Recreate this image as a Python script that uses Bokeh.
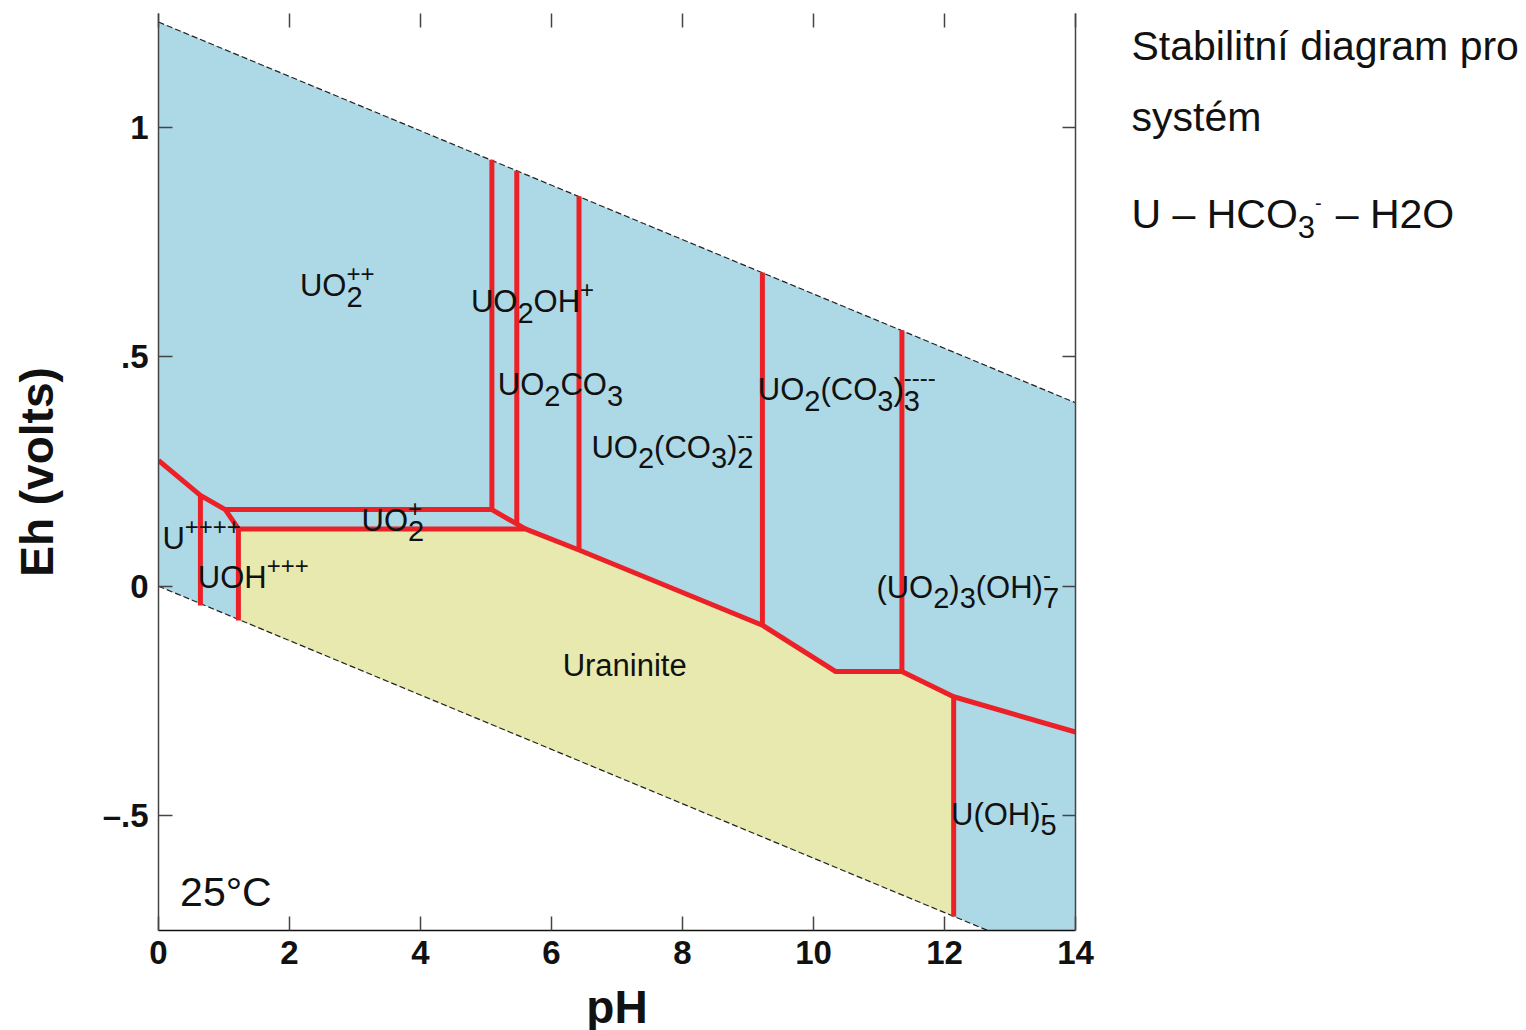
from bokeh.plotting import figure
from bokeh.layouts import row
from bokeh.models import LinearAxis, FixedTicker, ColumnDataSource, Range1d
from bokeh.embed import file_html
from bokeh.resources import INLINE
from bokeh.core.properties import value

# ---------------------------------------------------------------------------
# Data: Eh-pH stability diagram for U - HCO3- - H2O at 25 C
# ---------------------------------------------------------------------------

# water stability limits (O2/H2O above, H2O/H2 below)
water_ph = [0.0, 14.0]
water_upper_eh = [1.23, 0.40]
water_lower_eh = [0.0, -0.83]

# uraninite field: upper boundary (left to right) and lower closure
urn_top_ph = [1.22, 5.6, 6.42, 9.22, 10.34, 11.35, 12.14]
urn_top_eh = [0.125, 0.125, 0.079, -0.085, -0.186, -0.186, -0.241]
urn_low_ph = [12.14, 1.22]
urn_low_eh = [-0.72, -0.073]

# boundaries between the aqueous species fields
bound_ph = [
    [0.0, 0.64, 1.02, 1.22],
    [0.64, 0.64],
    [1.22, 1.22],
    [1.02, 5.09, 5.6],
    [1.22, 5.6, 6.42, 9.22, 10.34, 11.35, 12.14, 14.0],
    [5.09, 5.09],
    [5.47, 5.47],
    [6.42, 6.42],
    [9.22, 9.22],
    [11.35, 11.35],
    [12.14, 12.14],
]
bound_eh = [
    [0.274, 0.198, 0.167, 0.125],
    [0.198, -0.042],
    [0.125, -0.075],
    [0.167, 0.167, 0.125],
    [0.125, 0.125, 0.079, -0.085, -0.186, -0.186, -0.241, -0.318],
    [0.167, 0.93],
    [0.136, 0.906],
    [0.079, 0.85],
    [-0.085, 0.684],
    [-0.186, 0.558],
    [-0.241, -0.72],
]

# species labels: formula pieces (n = normal, b = subscript, p = superscript)
species_parts = [
    [("UO", "n"), ("2", "b"), ("++", "p")],
    [("UO", "n"), ("2", "b"), ("OH", "n"), ("+", "p")],
    [("UO", "n"), ("2", "b"), ("CO", "n"), ("3", "b")],
    [("UO", "n"), ("2", "b"), ("(CO", "n"), ("3", "b"), (")", "n"), ("2", "b"), ("--", "p")],
    [("UO", "n"), ("2", "b"), ("(CO", "n"), ("3", "b"), (")", "n"), ("3", "b"), ("----", "p")],
    [("(UO", "n"), ("2", "b"), (")", "n"), ("3", "b"), ("(OH)", "n"), ("7", "b"), ("-", "p")],
    [("U(OH)", "n"), ("5", "b"), ("-", "p")],
    [("U", "n"), ("++++", "p")],
    [("UOH", "n"), ("+++", "p")],
    [("UO", "n"), ("2", "b"), ("+", "p")],
    [("Uraninite", "n")],
]
species_ph = [2.16, 4.77, 5.18, 6.61, 9.15, 10.96, 12.10, 0.06, 0.60, 3.10, 6.17]
species_eh = [0.630, 0.595, 0.414, 0.278, 0.403, -0.027, -0.522, 0.078, -0.006, 0.118, -0.198]

temp_text = "25°C"
temp_ph, temp_eh = 0.33, -0.700

x_ticks = [0, 2, 4, 6, 8, 10, 12, 14]
y_ticks = [-0.5, 0, 0.5, 1]
y_tick_text = {-0.5: "–.5", 0: "0", 0.5: ".5", 1: "1"}

# side heading: lines of pieces, baseline in px from the top
heading_lines = [
    [("Stabilitní diagram pro", "n")],
    [("systém", "n")],
    [("U – HCO", "n"), ("3", "b"), ("-", "p"), (14, "g"), ("– H2O", "n")],
]
heading_baseline = [48, 118.7, 215.3]

# ---------------------------------------------------------------------------
FONT = "Liberation Sans"
RED = "#EC2127"
BLUE = "#ADD9E7"
YELLOW = "#E8E9AF"
INK = "#111111"
BASE_FIX = 0.37   # lifts text so its alphabetic baseline sits on the anchor

# advance widths (per 1000 em) for the sans face used for the formulas
ADV = {"U": 722, "O": 778, "H": 722, "C": 722, "(": 333, ")": 333, "+": 584,
       "-": 333, "2": 556, "3": 556, "5": 556, "7": 556, " ": 278, "–": 556,
       "r": 333, "a": 556, "n": 556, "i": 222, "t": 278, "e": 556}


def advance(s, size):
    return sum(ADV.get(c, 556) for c in s) * size / 1000.0


def layout(parts, sizes, shifts, stack=True):
    """Place formula pieces; with stack=True a superscript right after a
    subscript sits directly above it."""
    out = []
    cursor = 0.0
    prev_role, prev_w = None, 0.0
    for txt, role in parts:
        if role == "g":
            cursor += txt
            prev_role, prev_w = role, txt
            continue
        w = advance(txt, sizes[role])
        if stack and role == "p" and prev_role == "b":
            x0 = cursor - prev_w
            out.append((txt, x0, shifts[role], sizes[role]))
            cursor = x0 + max(prev_w, w)
        else:
            out.append((txt, cursor, shifts[role], sizes[role]))
            cursor += w
        prev_role, prev_w = role, w
    return out


def text_columns(parts_list, xs, ys, sizes, shifts, stack=True):
    cols = dict(x=[], y=[], text=[], dx=[], dy=[], size=[])
    for parts, x0, y0 in zip(parts_list, xs, ys):
        for txt, dx, dy, sz in layout(parts, sizes, shifts, stack):
            cols["x"].append(x0)
            cols["y"].append(y0)
            cols["text"].append(txt)
            cols["dx"].append(dx)
            cols["dy"].append(dy - BASE_FIX * sz)
            cols["size"].append(f"{sz}px")
    return ColumnDataSource(cols)


p = figure(frame_width=917, frame_height=917,
           x_range=Range1d(0, 14), y_range=Range1d(-0.7506, 1.2486),
           min_border_left=158, min_border_right=20, min_border_top=13, min_border_bottom=100,
           output_backend="svg", toolbar_location=None,
           background_fill_color="white", border_fill_color="white")
p.grid.visible = False
p.outline_line_color = None

# stability field of water
p.patch(water_ph + water_ph[::-1], water_upper_eh + water_lower_eh[::-1],
        fill_color=BLUE, line_color=None)
# uraninite field
p.patch(urn_top_ph + urn_low_ph, urn_top_eh + urn_low_eh,
        fill_color=YELLOW, line_color=None)

# water limits
p.line(water_ph, water_upper_eh, line_color="#222222", line_width=1.2, line_dash="6 3")
p.line(water_ph, water_lower_eh, line_color="#222222", line_width=1.2, line_dash="6 3")

# field boundaries
p.multi_line(bound_ph, bound_eh, line_color=RED, line_width=5,
             line_join="round", line_cap="butt")

# species labels
src = text_columns(species_parts, species_ph, species_eh,
                   {"n": 31, "b": 29, "p": 24}, {"n": 0, "b": 10, "p": -15})
p.text(x="x", y="y", text="text", x_offset="dx", y_offset="dy", text_font_size="size",
       text_font=value(FONT), text_color=INK, text_align="left",
       text_baseline="alphabetic", source=src)

src_t = text_columns([[(temp_text, "n")]], [temp_ph], [temp_eh], {"n": 41}, {"n": 0})
p.text(x="x", y="y", text="text", x_offset="dx", y_offset="dy", text_font_size="size",
       text_font=value(FONT), text_color=INK, text_align="left",
       text_baseline="alphabetic", source=src_t)

# axes
xa = p.xaxis[0]
xa.ticker = FixedTicker(ticks=x_ticks)
ya = p.yaxis[0]
ya.ticker = FixedTicker(ticks=y_ticks)
ya.major_label_overrides = y_tick_text

for ax in (xa, ya):
    ax.major_tick_in = 14
    ax.major_tick_out = 0
    ax.minor_tick_line_color = None
    ax.major_tick_line_color = "#444444"
    ax.major_tick_line_width = 1.5
    ax.major_label_text_font = FONT
    ax.major_label_text_font_size = "33px"
    ax.major_label_text_font_style = "bold"
    ax.major_label_text_color = INK
    ax.axis_label_text_font = FONT
    ax.axis_label_text_font_size = "46px"
    ax.axis_label_text_font_style = "bold"
    ax.axis_label_text_color = INK

xa.axis_line_color = INK
xa.axis_line_width = 1.5
xa.major_label_standoff = 10
xa.axis_label = "pH"
xa.axis_label_standoff = 14

ya.axis_line_color = "#444444"
ya.axis_line_width = 1.5
ya.major_label_standoff = 10
ya.axis_label = "Eh (volts)"
ya.axis_label_standoff = 37

top = LinearAxis(ticker=FixedTicker(ticks=x_ticks), axis_line_color=None,
                 major_tick_in=14, major_tick_out=0, minor_tick_line_color=None,
                 major_tick_line_color="#444444", major_tick_line_width=1.5,
                 major_label_text_font_size="1px", major_label_standoff=0,
                 major_label_text_alpha=0)
p.add_layout(top, "above")

right = LinearAxis(ticker=FixedTicker(ticks=y_ticks), axis_line_color="#444444",
                   axis_line_width=1.5, major_tick_in=13, major_tick_out=0,
                   minor_tick_line_color=None, major_tick_line_color="#444444",
                   major_tick_line_width=1.5, major_label_text_font_size="1px",
                   major_label_standoff=0, major_label_text_alpha=0)
p.add_layout(right, "right")

# side heading panel (pixel coordinates, y downwards)
side_w = 1526 - (158 + 917 + 20)
side = figure(frame_width=side_w, frame_height=1030, title=None,
              x_range=Range1d(1095, 1526), y_range=Range1d(1030, 0),
              x_axis_location=None, y_axis_location=None,
              min_border=0, output_backend="svg", toolbar_location=None,
              background_fill_color="white", border_fill_color="white")
side.grid.visible = False
side.outline_line_color = None
src_h = text_columns(heading_lines, [1131] * len(heading_lines), heading_baseline,
                     {"n": 41, "b": 31, "p": 20}, {"n": 0, "b": 9.4, "p": -18.6},
                     stack=False)
side.text(x="x", y="y", text="text", x_offset="dx", y_offset="dy", text_font_size="size",
          text_font=value(FONT), text_color=INK, text_align="left",
          text_baseline="alphabetic", source=src_h)

layout_all = row(p, side, spacing=0)
open("out.html", "w").write(file_html(layout_all, INLINE))
